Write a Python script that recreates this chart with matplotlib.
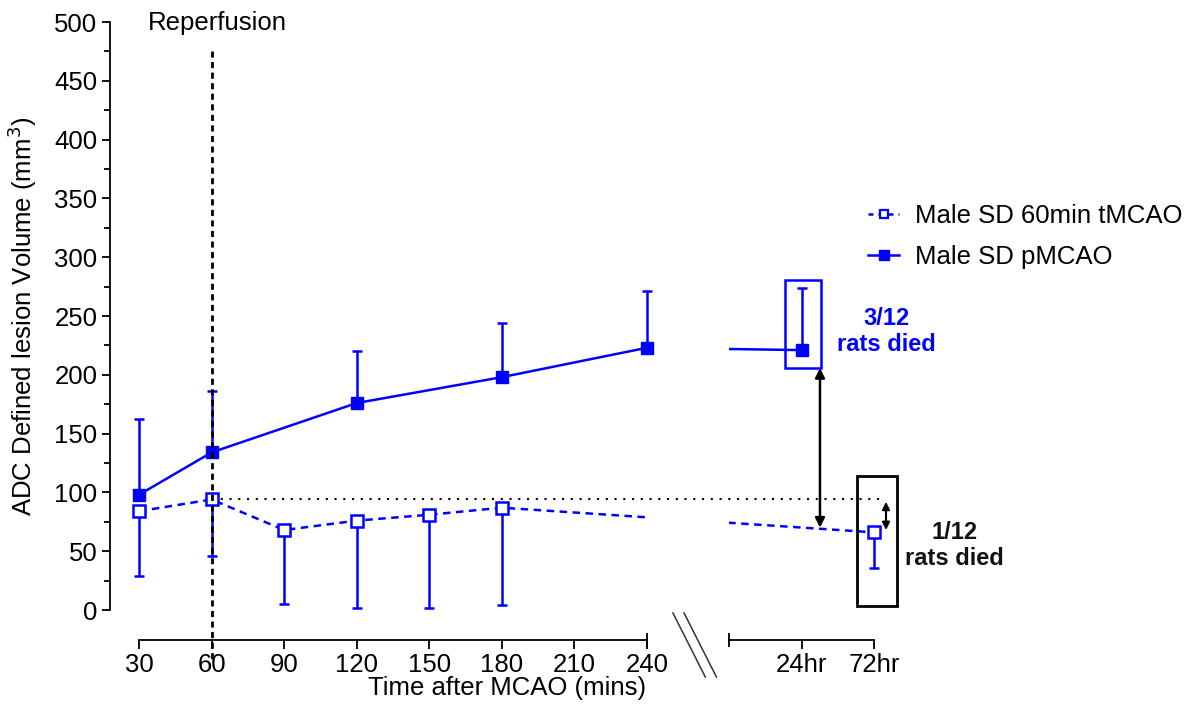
import numpy as np
import matplotlib
matplotlib.use('Agg')
import matplotlib.pyplot as plt
from matplotlib.patches import Rectangle
from matplotlib.lines import Line2D
from matplotlib.transforms import ScaledTranslation

plt.rcParams['font.family'] = ['Liberation Sans', 'DejaVu Sans']

# データ (値は図から読み取り)
# pMCAO: 平均値と上側の誤差
p_time = ['30', '60', '120', '180', '240', '24hr']
p_mean = [98, 134, 176, 198, 223, 221]
p_err_up = [64, 52, 44, 46, 48, 53]

# 60min tMCAO: 平均値と下側の誤差
t_time = ['30', '60', '90', '120', '150', '180', '72hr']
t_mean = [84, 94, 68, 76, 81, 87, 66]
t_err_down = [55, 48, 63, 74, 79, 83, 30]

min_ticks = [30, 60, 90, 120, 150, 180, 210, 240]
late_ticks = ['24hr', '72hr']

# 軸の折れ目の位置 (左側: 分, 右側: 24hr / 72hr)
right_start = 274
late_pos = {'24hr': 304, '72hr': 334}


def to_x(t):
    return late_pos[t] if t in late_pos else float(t)


blue = '#0000ff'
fs = 18.5

fig = plt.figure(figsize=(11.9, 7.14), dpi=100)
ax = fig.add_axes([110 / 1190, 1 - 610 / 714, 900 / 1190, 588 / 714])
ax.set_xlim(18, 18 + 900 / 2.419)
ax.set_ylim(0, 500)

px = [to_x(t) for t in p_time]
tx = [to_x(t) for t in t_time]

# 折れ目の部分を隠すための clip 領域
clips = [Rectangle((0, -100), 241, 800, transform=ax.transData),
         Rectangle((right_start, -100), 200, 800, transform=ax.transData)]
for c in clips:
    l1, = ax.plot(px, p_mean, color=blue, lw=1.8, zorder=3)
    l1.set_clip_path(c)
    l2, = ax.plot(tx, t_mean, color=blue, lw=1.8, ls=(0, (3, 2.2)), zorder=3)
    l2.set_clip_path(c)

# 誤差棒とマーカー
ax.errorbar(px, p_mean, yerr=[np.zeros(len(p_mean)), p_err_up], fmt='s',
            color=blue, ms=8, elinewidth=1.8, capsize=3.8, capthick=1.8,
            clip_on=False, zorder=4)
ax.errorbar(tx, t_mean, yerr=[t_err_down, np.zeros(len(t_mean))], fmt='s',
            color=blue, mfc='white', mec=blue, mew=1.8, ms=8.5,
            elinewidth=1.8, capsize=3.8, capthick=1.8, clip_on=False, zorder=4)

# 再灌流の線と基準線
ax.plot([60, 60], [475, -42], color='k', lw=2, ls=(0, (2.2, 1.6)),
        clip_on=False, zorder=5)
ax.text(62.5, 499, 'Reperfusion', ha='center', va='center', fontsize=fs)
ax.plot([60, 338], [t_mean[1], t_mean[1]], color='k', lw=1.5,
        ls=(0, (1, 3.2)), zorder=2)

# 枠と矢印
ax.add_patch(Rectangle((297.0, 205.8), 14.9, 74.8, fill=False,
                       ec=blue, lw=1.8, zorder=5))
ax.add_patch(Rectangle((326.8, 3.4), 16.5, 110.5, fill=False,
                       ec='k', lw=2, zorder=5))
ax.annotate('', xy=(311.5, 205.8), xytext=(311.5, 70),
            arrowprops=dict(arrowstyle='<|-|>', color='k', lw=1.8,
                            mutation_scale=14, shrinkA=0, shrinkB=0))
ax.annotate('', xy=(338.8, 92), xytext=(338.8, 68),
            arrowprops=dict(arrowstyle='<|-|>', color='k', lw=1.5,
                            mutation_scale=11, shrinkA=0, shrinkB=0))
ax.text(339, 237, '3/12\nrats died', color=blue, fontsize=17,
        fontweight='bold', ha='center', va='center', linespacing=1.15)
ax.text(367, 55, '1/12\nrats died', color='#111111', fontsize=17,
        fontweight='bold', ha='center', va='center', linespacing=1.15)

# 軸
for s in ['top', 'right']:
    ax.spines[s].set_visible(False)
ax.spines['left'].set_linewidth(1.3)
ax.spines['bottom'].set_linewidth(1.3)
ax.spines['bottom'].set_position(('outward', 21.6))
ax.spines['bottom'].set_bounds(30, 240)

ax.set_yticks(np.arange(0, 501, 50))
ax.set_yticks(np.arange(25, 500, 50), minor=True)
ax.tick_params(axis='y', which='major', direction='out', length=6, width=1.3,
               labelsize=fs, pad=3)
ax.tick_params(axis='y', which='minor', direction='out', length=4.5, width=1.3)
ax.set_xticks(min_ticks + [late_pos[t] for t in late_ticks])
ax.set_xticklabels([str(m) for m in min_ticks] + late_ticks)
ax.tick_params(axis='x', direction='out', length=6.5, width=1.3,
               labelsize=fs, pad=2.5)

# 右側の x 軸線と端の印
off = ax.get_xaxis_transform() + ScaledTranslation(0, -0.30, fig.dpi_scale_trans)
ax.plot([right_start, late_pos['72hr']], [0, 0], color='k', lw=1.3,
        transform=off, clip_on=False)
ax.plot([240, right_start], [0, 0], ls='none', marker='|', ms=10, mew=1.3,
        color='k', transform=off, clip_on=False)

# 折れ目の印
for x0 in [250.7, 255.3]:
    ax.plot([x0, x0 + 13.4], [-2.5, -57], color='#333333', lw=1.1,
            clip_on=False)

ax.set_ylabel('ADC Defined lesion Volume (mm$^3$)', fontsize=fs)
ax.yaxis.set_label_coords(-0.079, 0.5)
ax.set_xlabel('Time after MCAO (mins)', fontsize=fs)
ax.xaxis.set_label_coords((507 - 110) / 900, -0.112)

handles = [
    Line2D([], [], color=blue, lw=1.8, ls=(0, (2, 2)), marker='s', ms=6,
           mfc='white', mec=blue, mew=1.6),
    Line2D([], [], color=blue, lw=1.8, marker='s', ms=7),
]
fig.legend(handles, ['Male SD 60min tMCAO', 'Male SD pMCAO'],
           loc='upper left', bbox_to_anchor=(858 / 1190, 1 - 194 / 714),
           frameon=False, fontsize=fs, handlelength=1.2, handletextpad=0.6,
           labelspacing=0.65, borderaxespad=0)

fig.savefig('out.png', dpi=100)
